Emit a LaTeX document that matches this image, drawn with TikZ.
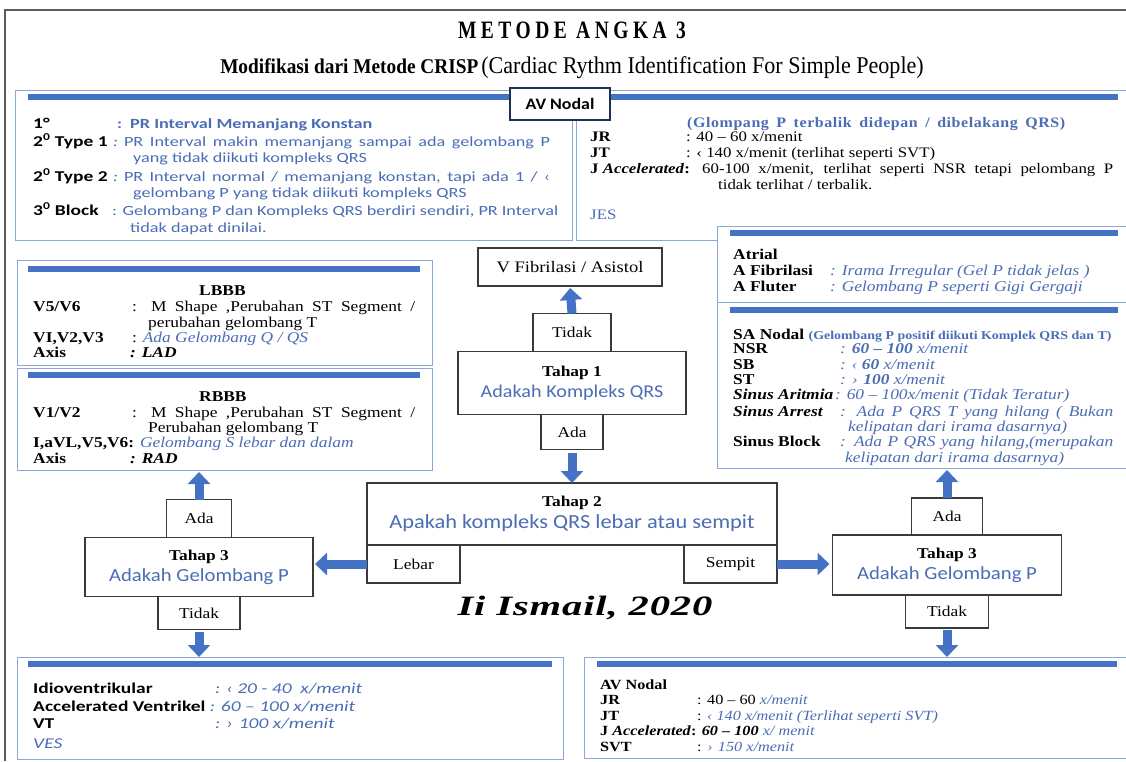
\documentclass[tikz,border=0pt]{standalone}
\usepackage{fontspec}
\setmainfont[FakeStretch=1.16]{Liberation Serif}
\newfontfamily\calib[FakeStretch=1.12]{Carlito}
\newfontfamily\calibwide[FakeStretch=1.3]{Carlito}
\newfontfamily\condserif[FakeStretch=0.78]{Liberation Serif}
\newfontfamily\subserif[FakeStretch=0.92]{Liberation Serif}
\newfontfamily\spacedserif[FakeStretch=1.1,LetterSpace=4]{Liberation Serif}
\newfontfamily\sigfont[FakeStretch=1.45,LetterSpace=3]{Liberation Serif}
\usetikzlibrary{arrows.meta,positioning}

\definecolor{barblue}{HTML}{4472C4}
\definecolor{txtblue}{HTML}{4A6DB5}
\definecolor{boxline}{HTML}{8AA6DC}
\definecolor{darkline}{HTML}{3A3A3A}
\definecolor{navyline}{HTML}{1F2F5A}
\definecolor{framegray}{HTML}{5A5A5A}

\newcommand{\lab}[2]{\makebox[#1][l]{#2}}
\newcommand{\just}[2]{\makebox[#1][s]{#2}}
\newcommand{\bl}{\color{txtblue}}

\tikzset{
  infobox/.style={draw=boxline, line width=1pt, fill=white, anchor=north west, inner sep=0pt, outer sep=0pt},
  bar/.style={draw=barblue, line width=6pt},
  flowbox/.style={draw=darkline, line width=1.2pt, fill=white, inner sep=0pt, outer sep=0pt, align=center, font=\fontsize{15}{17}\selectfont},
  bigarrow/.style={draw=barblue, line width=9pt, -{Triangle[length=12pt,width=22pt]}},
  calTxt/.style={anchor=base west, inner sep=0pt, font=\calibwide\fontsize{15}{17}\selectfont},
  serTxt/.style={anchor=base west, inner sep=0pt, font=\fontsize{15}{17}\selectfont},
}

\begin{document}
\begin{tikzpicture}[x=1pt,y=-1pt]
\useasboundingbox (0,0) rectangle (1126,761);

% outer frame
\draw[framegray, line width=1.5pt] (5,761) -- (5,10) -- (1126,10);

% title
\node[font=\condserif\bfseries\addfontfeature{LetterSpace=18}\fontsize{25}{28}\selectfont] (title) at (572,30) {METODE ANGKA 3};
\node[anchor=base] (subtitle) at (572,73) {{\subserif\bfseries\fontsize{21}{24}\selectfont Modifikasi dari Metode CRISP} {\subserif\fontsize{24}{27}\selectfont(Cardiac Rythm Identification For Simple People)}};

% info boxes
\node[infobox, minimum width=557pt, minimum height=150pt] (avbBox) at (15,90) {};
\node[infobox, minimum width=556pt, minimum height=150pt] (avnBox) at (576,90) {};
\node[infobox, minimum width=415pt, minimum height=76pt] (atrBox) at (717,226) {};
\node[infobox, minimum width=415pt, minimum height=166pt] (saBox) at (717,302) {};
\node[infobox, minimum width=415pt, minimum height=105pt] (lbbbBox) at (17,260) {};
\node[infobox, minimum width=415pt, minimum height=102pt] (rbbbBox) at (17,368) {};
\node[infobox, minimum width=546pt, minimum height=102pt] (ventBox) at (17,657) {};
\node[infobox, minimum width=548pt, minimum height=101pt] (avnBoxB) at (584,657) {};

% blue bars
\draw[bar] ([xshift=13pt,yshift=-7pt]avbBox.north west) -- ([xshift=-14pt,yshift=-7pt]avnBox.north east);
\draw[bar] ([xshift=13pt,yshift=-7pt]atrBox.north west) -- ([xshift=-14pt,yshift=-7pt]atrBox.north east);
\draw[bar] ([xshift=13pt,yshift=-8pt]saBox.north west) -- ([xshift=-14pt,yshift=-8pt]saBox.north east);
\draw[bar] ([xshift=11pt,yshift=-9pt]lbbbBox.north west) -- ([xshift=-12pt,yshift=-9pt]lbbbBox.north east);
\draw[bar] ([xshift=11pt,yshift=-7pt]rbbbBox.north west) -- ([xshift=-12pt,yshift=-7pt]rbbbBox.north east);
\draw[bar] ([xshift=11pt,yshift=-7pt]ventBox.north west) -- ([xshift=-11pt,yshift=-7pt]ventBox.north east);
\draw[bar] ([xshift=13pt,yshift=-7pt]avnBoxB.north west) -- ([xshift=-15pt,yshift=-7pt]avnBoxB.north east);

\node[flowbox, draw=navyline, minimum width=100pt, minimum height=32pt, font=\calib\bfseries\fontsize{16}{18}\selectfont] (avLabel) at (560,104) {AV Nodal};

% AV block
\foreach \xx/\yy/\txt [count=\i] in {
  33/128/{\lab{84pt}{\bfseries 1°}{\bl\bfseries\fontsize{14}{16}\selectfont :\hspace{8pt}PR Interval Memanjang Konstan}},
  33/146/{\lab{80pt}{\bfseries 2\textsuperscript{0} Type 1}{\bl\fontsize{14}{16}\selectfont\textit{:}\hspace{6pt}\just{426pt}{PR Interval makin memanjang sampai ada gelombang P}}},
  133/162/{\bl\fontsize{14}{16}\selectfont yang tidak diikuti kompleks QRS},
  33/181/{\lab{80pt}{\bfseries 2\textsuperscript{0} Type 2}{\bl\fontsize{14}{16}\selectfont\textit{:}\hspace{6pt}\just{426pt}{PR Interval normal / memanjang konstan, tapi ada 1 / ‹}}},
  133/197/{\bl\fontsize{14}{16}\selectfont gelombang P yang tidak diikuti kompleks QRS},
  33/215/{\lab{79pt}{\bfseries 3\textsuperscript{0} Block}{\bl\fontsize{14}{16}\selectfont\just{446pt}{: Gelombang P dan Kompleks QRS berdiri sendiri, PR Interval}}},
  130/232/{\bl\fontsize{14}{16}\selectfont tidak dapat dinilai.}
} \node[calTxt] (avb\i) at (\xx,\yy) {\txt};

% AV nodal (top)
\foreach \xx/\yy/\txt [count=\i] in {
  687/127/{\spacedserif\bl\bfseries\just{378pt}{(Glompang P terbalik didepan / dibelakang QRS)}},
  590/141/{\lab{96pt}{\bfseries JR}: 40 – 60 x/menit},
  590/157/{\lab{96pt}{\bfseries JT}: ‹ 140 x/menit (terlihat seperti SVT)},
  590/173/{\lab{112pt}{\bfseries J \textit{Accelerated}:}\just{411pt}{60-100 x/menit, terlihat seperti NSR tetapi pelombang P}},
  718/189/{tidak terlihat / terbalik.},
  590/219/{\bl JES}
} \node[serTxt, font=\fontsize{14.5}{17}\selectfont] (avn\i) at (\xx,\yy) {\txt};

% atrial
\foreach \xx/\yy/\txt [count=\i] in {
  733/259/{\bfseries Atrial},
  733/275/{\lab{97pt}{\bfseries A Fibrilasi}{\bl\itshape : Irama Irregular (Gel P tidak jelas )}},
  733/291/{\lab{97pt}{\bfseries A Fluter}{\bl\itshape : Gelombang P seperti Gigi Gergaji}}
} \node[serTxt] (atr\i) at (\xx,\yy) {\txt};

% SA nodal
\foreach \xx/\yy/\txt [count=\i] in {
  733/339/{\textbf{SA Nodal} {\bl\bfseries\fontsize{12}{13}\selectfont (Gelombang P positif diikuti Komplek QRS dan T)}},
  733/353/{\lab{107pt}{\bfseries NSR}{\bl\itshape : \textbf{60 – 100} x/menit}},
  733/369/{\lab{107pt}{\bfseries SB}{\bl\itshape : ‹ \textbf{60} x/menit}},
  733/384/{\lab{107pt}{\bfseries ST}{\bl\itshape : › \textbf{100} x/menit}},
  733/399/{\lab{102pt}{\bfseries\itshape Sinus Aritmia}{\bl\itshape : 60 – 100x/menit (Tidak Teratur)}},
  733/416/{\lab{107pt}{\bfseries\itshape Sinus Arrest}{\bl\itshape\just{273pt}{: Ada P QRS T yang hilang ( Bukan}}},
  848/431/{\bl\itshape kelipatan dari irama dasarnya)},
  733/446/{\lab{107pt}{\bfseries Sinus Block}{\bl\itshape\just{273pt}{: Ada P QRS yang hilang,(merupakan}}},
  845/462/{\bl\itshape kelipatan dari irama dasarnya)}
} \node[serTxt] (sa\i) at (\xx,\yy) {\txt};

% LBBB
\foreach \xx/\yy/\txt [count=\i] in {
  199/295/{\bfseries LBBB},
  33/311/{\lab{99pt}{\bfseries V5/V6}\just{283pt}{: M Shape ,Perubahan ST Segment /}},
  148/327/{perubahan gelombang T},
  33/342/{\lab{99pt}{\bfseries VI,V2,V3}: {\bl\itshape Ada Gelombang Q / QS}},
  33/357/{\lab{97pt}{\bfseries Axis}\textbf{\textit{: LAD}}}
} \node[serTxt] (lbbb\i) at (\xx,\yy) {\txt};

% RBBB
\foreach \xx/\yy/\txt [count=\i] in {
  199/401/{\bfseries RBBB},
  33/417/{\lab{99pt}{\bfseries V1/V2}\just{283pt}{: M Shape ,Perubahan ST Segment /}},
  148/432/{Perubahan gelombang T},
  33/447/{{\bfseries I,aVL,V5,V6:} {\bl\itshape Gelombang S lebar dan dalam}},
  33/463/{\lab{97pt}{\bfseries Axis}\textbf{\textit{: RAD}}}
} \node[serTxt] (rbbb\i) at (\xx,\yy) {\txt};

% ventrikel
\foreach \xx/\yy/\txt [count=\i] in {
  33/693/{\lab{182pt}{\bfseries Idioventrikular}{\bl\itshape : ‹ 20 - 40\ \ x/menit}},
  33/711/{{\bfseries Accelerated Ventrikel} {\bl\itshape: 60 – 100 x/menit}},
  33/728/{\lab{182pt}{\bfseries VT}{\bl\itshape : › 100 x/menit}},
  33/748/{\bl\itshape VES}
} \node[calTxt] (vent\i) at (\xx,\yy) {\txt};

% AV nodal (bottom)
\foreach \xx/\yy/\txt [count=\i] in {
  600/689/{\bfseries AV Nodal},
  600/704/{\lab{97pt}{\bfseries JR}: 40 – 60 {\bl\itshape x/menit}},
  600/720/{\lab{97pt}{\bfseries JT}: {\bl\itshape ‹ 140 x/menit (Terlihat seperti SVT)}},
  600/735/{{\bfseries J \textit{Accelerated}: \textit{60 – 100}} {\bl\itshape x/ menit}},
  600/751/{\lab{97pt}{\bfseries SVT}: {\bl\itshape › 150 x/menit}}
} \node[serTxt, font=\fontsize{14}{16}\selectfont] (avnb\i) at (\xx,\yy) {\txt};

% flow
\node[flowbox, minimum width=184pt, minimum height=38pt, font=\fontsize{16}{18}\selectfont] (vfib) at (570,267) {V Fibrilasi / Asistol};
\node[flowbox, minimum width=228pt, minimum height=63pt] (tahap1) at (572,383) {\textbf{Tahap 1}\\[4pt]{\calib\color{txtblue}\fontsize{18}{20}\selectfont Adakah Kompleks QRS}};
\node[flowbox, minimum width=78pt, minimum height=38pt, above=0pt of tahap1] (tidak1) {Tidak};
\node[flowbox, minimum width=62pt, minimum height=35pt, below=0pt of tahap1] (ada1) {Ada};

\node[flowbox, minimum width=410pt, minimum height=62pt] (tahap2) at (572,514) {\textbf{Tahap 2}\\[4pt]{\calib\color{txtblue}\fontsize{20}{22}\selectfont Apakah kompleks QRS lebar atau sempit}};
\node[flowbox, minimum width=93pt, minimum height=38pt, anchor=north west] (lebar) at (tahap2.south west) {Lebar};
\node[flowbox, minimum width=93pt, minimum height=38pt, anchor=north east] (sempit) at (tahap2.south east) {Sempit};

\node[flowbox, minimum width=228pt, minimum height=59pt] (tahap3L) at (199,567) {\textbf{Tahap 3}\\[4pt]{\calib\color{txtblue}\fontsize{18.5}{20}\selectfont Adakah Gelombang P}};
\node[flowbox, minimum width=65pt, minimum height=38pt, above=0pt of tahap3L] (adaL) {Ada};
\node[flowbox, minimum width=82pt, minimum height=33pt, below=0pt of tahap3L] (tidakL) {Tidak};

\node[flowbox, minimum width=229pt, minimum height=60pt] (tahap3R) at (947,565) {\textbf{Tahap 3}\\[4pt]{\calib\color{txtblue}\fontsize{18.5}{20}\selectfont Adakah Gelombang P}};
\node[flowbox, minimum width=71pt, minimum height=37pt, above=0pt of tahap3R] (adaR) {Ada};
\node[flowbox, minimum width=83pt, minimum height=33pt, below=0pt of tahap3R] (tidakR) {Tidak};

% arrows
\draw[bigarrow, shorten >=2pt] (tidak1.north) -- (vfib.south);
\draw[bigarrow, shorten <=3pt] (ada1.south) -- (tahap2.north);
\draw[bigarrow, shorten >=2pt] (lebar.west) -- (lebar.west -| tahap3L.east);
\draw[bigarrow, shorten >=3pt] (sempit.east) -- (sempit.east -| tahap3R.west);
\draw[bigarrow, shorten >=2pt] (adaL.north) -- (adaL.north |- rbbbBox.south);
\draw[bigarrow, shorten <=2pt] (tidakL.south) -- (tidakL.south |- ventBox.north);
\draw[bigarrow, shorten >=2pt] (adaR.north) -- (adaR.north |- saBox.south);
\draw[bigarrow, shorten <=2pt] (tidakR.south) -- (tidakR.south |- avnBoxB.north);

% signature
\node[font=\sigfont\bfseries\itshape\fontsize{28}{30}\selectfont] (sig) at (585,608) {Ii Ismail, 2020};
\end{tikzpicture}
\end{document}
